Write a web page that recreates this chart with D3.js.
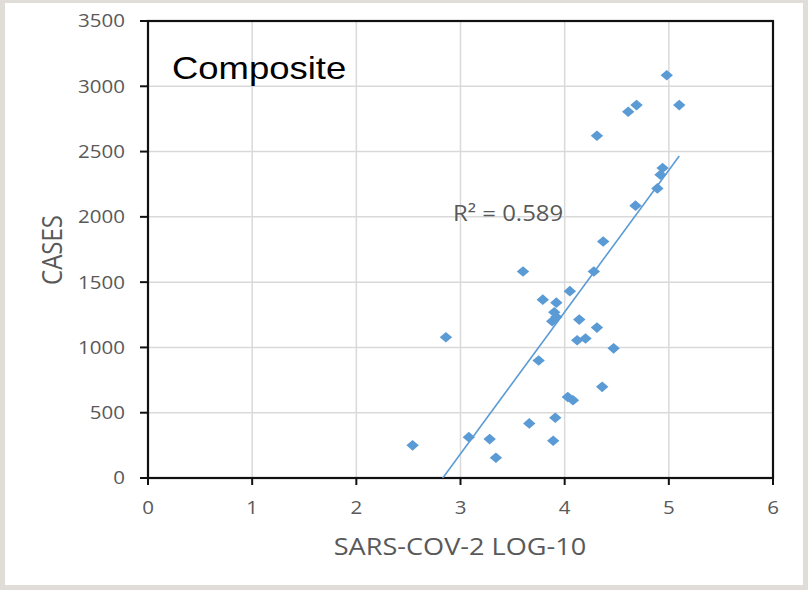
<!DOCTYPE html>
<html>
<head>
<meta charset="utf-8">
<script src="https://cdn.jsdelivr.net/npm/d3@7"></script>
<style>
  html, body { margin: 0; padding: 0; background: #e0ddd8; }
  svg { display: block; }
</style>
</head>
<body>
<svg id="chart" width="808" height="590"></svg>
<script>
// ---- Data ----
const xValues = [4.98, 4.61, 4.69, 5.10, 4.31, 4.94, 4.92, 4.89, 4.68, 4.37,
                 3.60, 4.28, 3.79, 4.05, 3.92, 3.90, 3.92, 3.88, 4.14, 4.31,
                 2.86, 4.12, 4.20, 4.47, 3.75, 4.36, 4.03, 4.08, 3.91, 3.66,
                 2.54, 3.08, 3.28, 3.89, 3.34];
const yValues = [3085, 2805, 2856, 2856, 2621, 2374, 2323, 2218, 2086, 1811,
                 1582, 1582, 1366, 1431, 1343, 1269, 1233, 1200, 1213, 1152,
                 1078, 1055, 1068, 993, 900, 698, 620, 596, 461, 418,
                 250, 313, 298, 285, 155];
const xTicks = [0, 1, 2, 3, 4, 5, 6];
const yTicks = [0, 500, 1000, 1500, 2000, 2500, 3000, 3500];
const chartTitle = "Composite";
const xTitle = "SARS-COV-2 LOG-10";
const yTitle = "CASES";
const r2Label = "R\u00B2 = 0.589";

// ---- Layout ----
const svg = d3.select("#chart");
const plot = { left: 148, right: 773, top: 21, bottom: 478 };
const blue = "#5B9BD5";
const textGrey = "#595959";
const stretch = 1.14;

svg.append("rect").attr("x", 5).attr("y", 3).attr("width", 798).attr("height", 582).attr("fill", "#ffffff");

const x = d3.scaleLinear().domain([0, 6]).range([plot.left, plot.right]);
const y = d3.scaleLinear().domain([0, 3500]).range([plot.bottom, plot.top]);

// gridlines
svg.append("g").selectAll("line").data(xTicks.slice(1, -1)).join("line")
  .attr("x1", d => x(d)).attr("x2", d => x(d))
  .attr("y1", plot.top).attr("y2", plot.bottom)
  .attr("stroke", "#d9d9d9").attr("stroke-width", 1.5);
svg.append("g").selectAll("line").data(yTicks.slice(1, -1)).join("line")
  .attr("x1", plot.left).attr("x2", plot.right)
  .attr("y1", d => y(d)).attr("y2", d => y(d))
  .attr("stroke", "#d9d9d9").attr("stroke-width", 1.5);

// frame
svg.append("rect").attr("x", plot.left).attr("y", plot.top)
  .attr("width", plot.right - plot.left).attr("height", plot.bottom - plot.top)
  .attr("fill", "none").attr("stroke", "#111111").attr("stroke-width", 2.2);

// tick marks
svg.append("g").selectAll("line").data(xTicks).join("line")
  .attr("x1", d => x(d)).attr("x2", d => x(d))
  .attr("y1", plot.bottom).attr("y2", plot.bottom + 7)
  .attr("stroke", "#111111").attr("stroke-width", 2);
svg.append("g").selectAll("line").data(yTicks).join("line")
  .attr("x1", plot.left - 8).attr("x2", plot.left)
  .attr("y1", d => y(d)).attr("y2", d => y(d))
  .attr("stroke", "#111111").attr("stroke-width", 2);

// tick labels
svg.append("g").selectAll("text").data(xTicks).join("text")
  .attr("transform", d => `translate(${x(d)},514) scale(${stretch},1)`)
  .attr("text-anchor", "middle")
  .attr("font-family", "'Open Sans', sans-serif").attr("font-size", 18)
  .attr("fill", textGrey).text(d => d);
svg.append("g").selectAll("text").data(yTicks).join("text")
  .attr("transform", d => `translate(125,${y(d)}) scale(${stretch},1)`)
  .attr("text-anchor", "end").attr("dy", "0.36em")
  .attr("font-family", "'Open Sans', sans-serif").attr("font-size", 18)
  .attr("fill", textGrey).text(d => d);

// axis titles
svg.append("text")
  .attr("transform", `translate(460,555) scale(1.13,1)`)
  .attr("text-anchor", "middle")
  .attr("font-family", "'Open Sans', sans-serif").attr("font-size", 24)
  .attr("fill", textGrey).text(xTitle);
svg.append("text")
  .attr("transform", `translate(62,250) scale(1.13,1) rotate(-90)`)
  .attr("text-anchor", "middle")
  .attr("font-family", "'Open Sans', sans-serif").attr("font-size", 24)
  .attr("fill", textGrey).text(yTitle);

// clip
svg.append("clipPath").attr("id", "plotClip").append("rect")
  .attr("x", plot.left).attr("y", plot.top)
  .attr("width", plot.right - plot.left).attr("height", plot.bottom - plot.top);

// linear regression trendline
const n = xValues.length;
const mx = d3.mean(xValues), my = d3.mean(yValues);
let sxy = 0, sxx = 0;
for (let i = 0; i < n; i++) { sxy += (xValues[i] - mx) * (yValues[i] - my); sxx += (xValues[i] - mx) ** 2; }
const slope = sxy / sxx, intercept = my - slope * mx;
const x0 = d3.min(xValues), x1 = d3.max(xValues);
svg.append("line").attr("clip-path", "url(#plotClip)")
  .attr("x1", x(x0)).attr("y1", y(slope * x0 + intercept))
  .attr("x2", x(x1)).attr("y2", y(slope * x1 + intercept))
  .attr("stroke", blue).attr("stroke-width", 1.6);

// points (diamonds)
const pts = d3.zip(xValues, yValues);
svg.append("g").selectAll("path").data(pts).join("path")
  .attr("transform", d => `translate(${x(d[0])},${y(d[1])})`)
  .attr("d", "M0,-5.3L6.2,0L0,5.3L-6.2,0Z")
  .attr("fill", blue);

// labels
svg.append("text")
  .attr("transform", `translate(453,221) scale(${stretch},1)`)
  .attr("font-family", "'Open Sans', sans-serif").attr("font-size", 21)
  .attr("fill", textGrey).text(r2Label);
svg.append("text")
  .attr("transform", `translate(172,79) scale(${stretch},1)`)
  .attr("font-family", "'Liberation Sans', Arial, sans-serif").attr("font-size", 32)
  .attr("fill", "#000000").text(chartTitle);
</script>
</body>
</html>
